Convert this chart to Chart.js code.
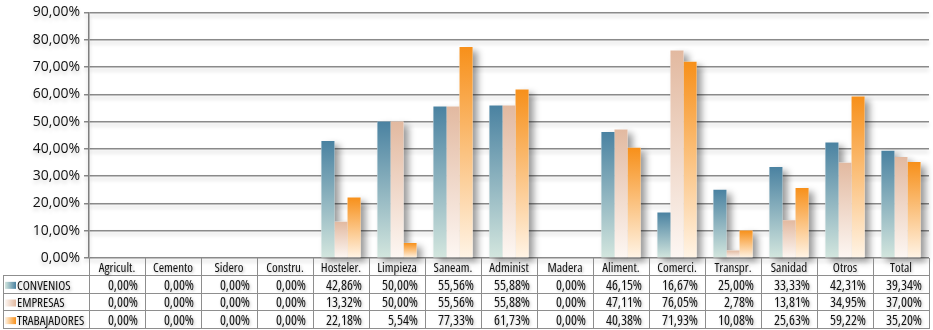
<!DOCTYPE html>
<html>
<head>
<meta charset="utf-8">
<script src="https://cdn.jsdelivr.net/npm/chart.js"></script>
<style>
  html, body { margin: 0; padding: 0; background: #fff; }
  #wrap { width: 933px; height: 330px; }
</style>
</head>
<body>
<div id="wrap"><canvas id="chart" width="933" height="330"></canvas></div>
<script>
const categories = ['Agricult.', 'Cemento', 'Sidero', 'Constru.', 'Hosteler.', 'Limpieza', 'Saneam.', 'Administ', 'Madera', 'Aliment.', 'Comerci.', 'Transpr.', 'Sanidad', 'Otros', 'Total'];
const seriesNames = ['CONVENIOS', 'EMPRESAS', 'TRABAJADORES'];
const convenios = [0, 0, 0, 0, 42.86, 50.00, 55.56, 55.88, 0, 46.15, 16.67, 25.00, 33.33, 42.31, 39.34];
const empresas = [0, 0, 0, 0, 13.32, 50.00, 55.56, 55.88, 0, 47.11, 76.05, 2.78, 13.81, 34.95, 37.00];
const trabajadores = [0, 0, 0, 0, 22.18, 5.54, 77.33, 61.73, 0, 40.38, 71.93, 10.08, 25.63, 59.22, 35.20];
const yMax = 90;
const yStep = 10;

const FAMILY = "'Open Sans', 'Roboto', sans-serif";
const LABEL_FONT = "condensed 13px " + FAMILY;
const NUMBER_FONT = "condensed 14px " + FAMILY;
const colors = [
    { top: '#4a82a1', bottom: '#d3e6de' },
    { top: '#e2b9a0', bottom: '#fdf7f3' },
    { top: '#f7901a', bottom: '#fff4e6' }
];

const fmt = (v) => v.toFixed(2).replace('.', ',') + '%';

const barGradient = (c) => (ctx) => {
    const chart = ctx.chart;
    const area = chart.chartArea;
    if (!area || ctx.raw === undefined) return c.top;
    const yTop = chart.scales.y.getPixelForValue(ctx.raw);
    if (area.bottom - yTop < 1) return c.top;
    const g = chart.ctx.createLinearGradient(0, yTop, 0, area.bottom);
    g.addColorStop(0, c.top);
    g.addColorStop(1, c.bottom);
    return g;
};

// soft shadows: grid lines / tick labels, then one shadow pass under all bars
const shadowPlugin = {
    id: 'shadows',
    beforeDraw(chart) {
        const ctx = chart.ctx;
        ctx.save();
        ctx.fontStretch = 'condensed';
        ctx.shadowColor = 'rgba(0,0,0,0.2)';
        ctx.shadowBlur = 4;
        ctx.shadowOffsetY = 3;
    },
    beforeDatasetsDraw(chart) {
        const ctx = chart.ctx;
        ctx.restore();
        ctx.save();
        ctx.shadowColor = 'rgba(0,0,0,0.4)';
        ctx.shadowBlur = 7;
        ctx.shadowOffsetX = 5;
        ctx.shadowOffsetY = 4;
        ctx.fillStyle = '#fff';
        chart.getSortedVisibleDatasetMetas().forEach(meta => {
            meta.data.forEach(bar => {
                const h = bar.base - bar.y;
                if (h < 0.5) return;
                ctx.fillRect(bar.x - bar.width / 2, bar.y, bar.width, h);
            });
        });
        ctx.restore();
    }
};

// data table under the plot
const tablePlugin = {
    id: 'dataTable',
    afterDraw(chart) {
        const ctx = chart.ctx;
        const area = chart.chartArea;
        const xs = chart.scales.x;
        const n = categories.length;
        const w = (area.right - area.left) / n;
        const rows = [area.bottom, 276, 293.7, 311.3, 329];
        const leftX = 3;
        const series = [convenios, empresas, trabajadores];

        ctx.save();
        ctx.strokeStyle = '#8e8e8e';
        ctx.lineWidth = 1;
        ctx.beginPath();
        for (let i = 0; i <= n; i++) {
            const x = Math.round(area.left + i * w) + 0.5;
            ctx.moveTo(x, rows[0]);
            ctx.lineTo(x, rows[4]);
        }
        for (let r = 1; r < rows.length; r++) {
            const y = Math.round(rows[r]) - 0.5;
            ctx.moveTo(leftX, y);
            ctx.lineTo(area.right, y);
        }
        ctx.moveTo(leftX + 0.5, rows[1]);
        ctx.lineTo(leftX + 0.5, rows[4]);
        ctx.stroke();

        ctx.shadowColor = 'rgba(0,0,0,0.3)';
        ctx.shadowBlur = 3;
        ctx.shadowOffsetX = 1;
        ctx.shadowOffsetY = 1;
        ctx.fillStyle = '#111';
        ctx.textBaseline = 'middle';

        ctx.font = LABEL_FONT;
        ctx.fontStretch = 'condensed';
        ctx.textAlign = 'center';
        categories.forEach((cat, i) => {
            ctx.fillText(cat, xs.getPixelForValue(i), (rows[0] + rows[1]) / 2 + 1);
        });

        ctx.font = NUMBER_FONT;
        ctx.fontStretch = 'condensed';
        ctx.textAlign = 'right';
        series.forEach((vals, s) => {
            const cy = (rows[s + 1] + rows[s + 2]) / 2 + 1;
            vals.forEach((v, i) => {
                ctx.fillText(fmt(v), xs.getPixelForValue(i) + 21, cy);
            });
        });

        ctx.font = LABEL_FONT;
        ctx.fontStretch = 'condensed';
        ctx.textAlign = 'left';
        seriesNames.forEach((name, s) => {
            const cy = (rows[s + 1] + rows[s + 2]) / 2;
            ctx.shadowColor = 'transparent';
            const g = ctx.createLinearGradient(5, 0, 16, 0);
            g.addColorStop(0, colors[s].bottom);
            g.addColorStop(1, colors[s].top);
            ctx.fillStyle = g;
            ctx.fillRect(5, cy - 3, 11, 7);
            ctx.shadowColor = 'rgba(0,0,0,0.3)';
            ctx.fillStyle = '#111';
            ctx.fillText(name, 17, cy + 1);
        });
        ctx.restore();
    }
};

const datasets = [convenios, empresas, trabajadores].map((vals, s) => ({
    label: seriesNames[s],
    data: vals,
    backgroundColor: barGradient(colors[s]),
    borderWidth: 0,
    categoryPercentage: 0.7,
    barPercentage: 1.0
}));

new Chart(document.getElementById('chart'), {
    type: 'bar',
    data: { labels: categories, datasets },
    options: {
        responsive: false,
        animation: false,
        layout: { padding: { top: 11, right: 4, bottom: 72, left: 0 } },
        plugins: { legend: { display: false }, tooltip: { enabled: false } },
        scales: {
            x: { display: false },
            y: {
                min: 0,
                max: yMax,
                afterFit: (scale) => { scale.width = 89; },
                ticks: {
                    stepSize: yStep,
                    padding: 4,
                    color: '#111',
                    font: { family: FAMILY, size: 14, style: 'condensed' },
                    callback: (v) => fmt(v)
                },
                grid: { color: '#8a8a8a', lineWidth: 1.5, tickLength: 5 },
                border: { color: '#7f7f7f', width: 1.5 }
            }
        }
    },
    plugins: [shadowPlugin, tablePlugin]
});
</script>
</body>
</html>
